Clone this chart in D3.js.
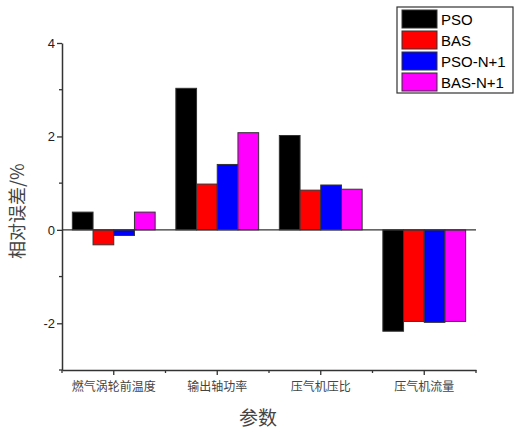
<!DOCTYPE html>
<html>
<head>
<meta charset="utf-8">
<script src="https://cdn.jsdelivr.net/npm/d3@7"></script>
<style>
  body { margin: 0; background: #fff; }
  svg { display: block; }
</style>
</head>
<body>
<div id="chart"></div>
<script>
// chart data
var categories = ["燃气涡轮前温度", "输出轴功率", "压气机压比", "压气机流量"];
var seriesNames = ["PSO", "BAS", "PSO-N+1", "BAS-N+1"];
var seriesColors = ["#000000", "#ff0000", "#0000ff", "#ff00ff"];
var psoValues = [0.38, 3.03, 2.02, -2.17];
var basValues = [-0.32, 0.98, 0.85, -1.96];
var psoN1Values = [-0.12, 1.40, 0.96, -1.98];
var basN1Values = [0.38, 2.08, 0.87, -1.96];
var yMajorTicks = [-2, 0, 2, 4];
var yMinorTicks = [-3, -1, 1, 3];

var allSeries = [psoValues, basValues, psoN1Values, basN1Values];

var width = 515, height = 432;
var margin = { top: 43, right: 39, bottom: 62, left: 62 };

var svg = d3.select("#chart").append("svg")
  .attr("width", width)
  .attr("height", height);

var plotW = width - margin.left - margin.right;
var plotH = height - margin.top - margin.bottom;

var g = svg.append("g")
  .attr("transform", "translate(" + margin.left + "," + margin.top + ")");

var x = d3.scaleBand()
  .domain(categories)
  .range([0, plotW])
  .paddingInner(0.2)
  .paddingOuter(0.1);

var xInner = d3.scaleBand()
  .domain(seriesNames)
  .range([0, x.bandwidth()]);

var y = d3.scaleLinear()
  .domain([-3, 4])
  .range([plotH, 0]);

// bars
var groups = g.selectAll(".group")
  .data(categories)
  .enter().append("g")
  .attr("transform", function (d) { return "translate(" + x(d) + ",0)"; });

groups.selectAll("rect")
  .data(function (d, i) {
    return seriesNames.map(function (s, j) {
      return { series: s, value: allSeries[j][i], color: seriesColors[j] };
    });
  })
  .enter().append("rect")
  .attr("x", function (d) { return xInner(d.series); })
  .attr("width", xInner.bandwidth())
  .attr("y", function (d) { return y(Math.max(0, d.value)); })
  .attr("height", function (d) { return Math.abs(y(d.value) - y(0)); })
  .attr("fill", function (d) { return d.color; })
  .attr("stroke", "#333")
  .attr("stroke-width", 1);

// zero line
g.append("line")
  .attr("x1", 0).attr("x2", plotW)
  .attr("y1", y(0)).attr("y2", y(0))
  .attr("stroke", "#333")
  .attr("stroke-width", 1.2);

var axisColor = "#333";

// y axis
var yAxis = g.append("g")
  .call(d3.axisLeft(y).tickValues(yMajorTicks).tickSize(5).tickSizeOuter(0)
    .tickFormat(function (d) { return String(d); }));
yAxis.select(".domain").attr("stroke", axisColor).attr("stroke-width", 1.5);
yAxis.selectAll(".tick line").attr("stroke", axisColor).attr("stroke-width", 1.3);
yAxis.selectAll(".tick text")
  .attr("font-family", "Arial, 'Liberation Sans', sans-serif")
  .attr("font-size", 13)
  .attr("fill", "#222")
  .attr("x", -7);

g.selectAll(".yminor")
  .data(yMinorTicks)
  .enter().append("line")
  .attr("x1", -3).attr("x2", 0)
  .attr("y1", function (d) { return y(d); })
  .attr("y2", function (d) { return y(d); })
  .attr("stroke", axisColor)
  .attr("stroke-width", 1.3);

// x axis
var xAxis = g.append("g")
  .attr("transform", "translate(0," + plotH + ")")
  .call(d3.axisBottom(x).tickSize(5).tickSizeOuter(0));
xAxis.select(".domain").attr("stroke", axisColor).attr("stroke-width", 1.5);
xAxis.selectAll(".tick line").attr("stroke", axisColor).attr("stroke-width", 1.3);
xAxis.selectAll(".tick text")
  .attr("font-family", "'Noto Sans CJK SC', sans-serif")
  .attr("font-size", 12)
  .attr("fill", "#444")
  .attr("dy", "1.05em");

// minor ticks between categories and at the ends
var step = x.step();
var minorX = [0, plotW];
for (var i = 1; i < categories.length; i++) {
  minorX.push(x(categories[i]) - (step - x.bandwidth()) / 2);
}
g.selectAll(".xminor")
  .data(minorX)
  .enter().append("line")
  .attr("x1", function (d) { return d; })
  .attr("x2", function (d) { return d; })
  .attr("y1", plotH).attr("y2", plotH + 3)
  .attr("stroke", axisColor)
  .attr("stroke-width", 1.3);

// axis titles
svg.append("text")
  .attr("transform", "translate(24," + (margin.top + y(0.4)) + ") rotate(-90)")
  .attr("text-anchor", "middle")
  .attr("font-family", "'Noto Sans CJK SC', sans-serif")
  .attr("font-size", 18)
  .attr("fill", "#444")
  .text("相对误差/%");

svg.append("text")
  .attr("x", 258)
  .attr("y", 425)
  .attr("text-anchor", "middle")
  .attr("font-family", "'Noto Sans CJK SC', sans-serif")
  .attr("font-size", 19)
  .attr("fill", "#444")
  .text("参数");

// legend
var legend = svg.append("g").attr("transform", "translate(397,7)");
legend.append("rect")
  .attr("width", 116).attr("height", 86)
  .attr("fill", "#fff")
  .attr("stroke", "#333")
  .attr("stroke-width", 1.2);

var items = legend.selectAll(".item")
  .data(seriesNames)
  .enter().append("g")
  .attr("transform", function (d, i) { return "translate(5," + (3 + i * 21) + ")"; });

items.append("rect")
  .attr("width", 35).attr("height", 18)
  .attr("fill", function (d, i) { return seriesColors[i]; })
  .attr("stroke", "#333")
  .attr("stroke-width", 1);

items.append("text")
  .attr("x", 39)
  .attr("y", 15)
  .attr("font-family", "Arial, 'Liberation Sans', sans-serif")
  .attr("font-size", 15)
  .attr("fill", "#000")
  .text(function (d) { return d; });
</script>
</body>
</html>
